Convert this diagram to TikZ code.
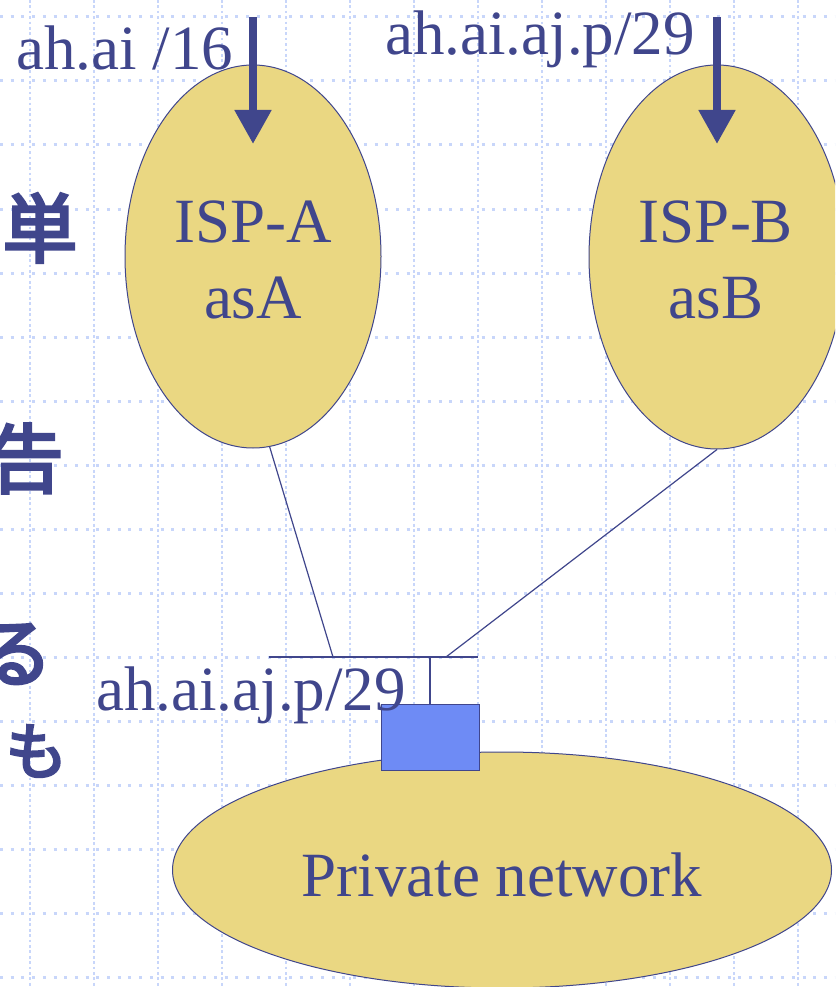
\documentclass[tikz,border=0pt]{standalone}
\usepackage{fontspec}
\setmainfont{Liberation Serif}
\newfontfamily\cjk{Noto Sans CJK JP}[FakeBold=4]
\usetikzlibrary{shapes.geometric,arrows.meta}
\definecolor{ink}{RGB}{64,70,140}
\definecolor{sand}{RGB}{234,215,130}
\definecolor{gridblue}{RGB}{200,214,250}
\definecolor{rtrblue}{RGB}{110,139,245}
\begin{document}
\begin{tikzpicture}[x=1pt,y=-1pt,
  hgrid/.style={gridblue, line width=3pt, dash pattern=on 3pt off 7.7pt},
  vgrid/.style={gridblue, line width=1.6pt, dash pattern=on 2.7pt off 2.7pt},
  cloud/.style={ellipse, draw=ink, line width=1pt, fill=sand, inner sep=0pt,
    text=ink, align=center, font=\fontsize{63}{76}\selectfont},
  wire/.style={draw=ink, line width=1.2pt},
  feed/.style={draw=ink, line width=8pt, -{Triangle[width=35pt,length=34pt]}},
  lbl/.style={inner sep=0pt, text=ink, font=\fontsize{63}{76}\selectfont},
  jp/.style={inner sep=0pt, text=ink},
  router/.style={draw=ink, line width=1pt, fill=rtrblue, inner sep=0pt}]
\useasboundingbox (0,0) rectangle (835,987);
\clip (0,0) rectangle (835,987);
\fill[white] (0,0) rectangle (835,987);

% dotted background grid
\foreach \y in {17,81,...,977} \draw[hgrid] (0,\y) -- (835,\y);
\foreach \x in {30,94,...,798} \draw[vgrid] (\x,0) -- (\x,987);

% autonomous systems and the private network
\node[cloud, minimum width=256pt, minimum height=383pt] (ispA) at (253,256.5) {};
\node[cloud, minimum width=256pt, minimum height=384pt] (ispB) at (717,257) {};
\node[cloud, minimum width=659pt, minimum height=236pt, text height=54pt] (priv) at (502,870) {Private network};
\node[lbl, anchor=base] (ispAname) at (253,242) {ISP-A};
\node[lbl, anchor=base] (ispAas)   at (253,318) {asA};
\node[lbl, anchor=base] (ispBname) at (716,242) {ISP-B};
\node[lbl, anchor=base] (ispBas)   at (716,318) {asB};

% shared segment and uplinks
\coordinate (busL) at (269,657);
\coordinate (busR) at (478,657);
\coordinate (tapA) at (333,657);
\coordinate (tapB) at (446,657);
\coordinate (tap)  at (430,657);
\node[router, minimum width=98pt, minimum height=66pt] (rtr) at (430,737) {};
\draw[wire] (busL) -- (busR);
\draw[wire] (tap) -- (rtr.north);
\draw[wire] (ispA.-85) -- (tapA);
\draw[wire] (ispB.south) -- (tapB);

% advertised routes
\coordinate (inA) at (253,17);
\coordinate (tipA) at (253,144);
\coordinate (inB) at (717,17);
\coordinate (tipB) at (717,144);
\draw[feed] (inA) -- (tipA);
\draw[feed] (inB) -- (tipB);

\node[lbl, anchor=base west] (pfxA) at (16,70) {ah.ai /16};
\node[lbl, anchor=base west] (pfxB) at (385,55) {ah.ai.aj.p/29};
\node[lbl, anchor=base west] (pfxP) at (96,710) {ah.ai.aj.p/29};

% body text running in from the left
\node[jp, font=\cjk\fontsize{75}{80}\selectfont] (k1) at (40,228) {単};
\node[jp, font=\cjk\fontsize{75}{80}\selectfont] (k2) at (26,458.5) {告};
\node[jp, font=\cjk\fontsize{75}{80}\selectfont] (k3) at (15,654) {る};
\node[jp, font=\cjk\fontsize{62}{66}\selectfont] (k4) at (36.5,751) {も};
\end{tikzpicture}
\end{document}
